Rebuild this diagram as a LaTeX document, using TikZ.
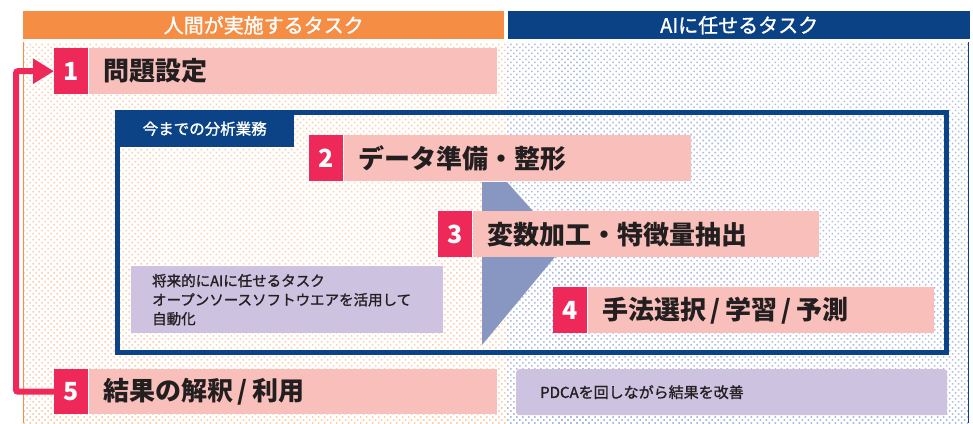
\documentclass[tikz,border=0pt]{standalone}
\usepackage{fontspec}
\setmainfont{Noto Sans CJK JP}
\newfontfamily\jpmed[FakeBold=1.2]{Noto Sans CJK JP}
\usetikzlibrary{patterns.meta,arrows.meta,positioning}
\definecolor{hdrorange}{HTML}{F68D45}
\definecolor{hdrblue}{HTML}{0A4285}
\definecolor{frameblue}{HTML}{0B4386}
\definecolor{dotorange}{HTML}{FBCFAE}
\definecolor{dotblue}{HTML}{AFB9DB}
\definecolor{stepred}{HTML}{EE2858}
\definecolor{steppink}{HTML}{F9C0BB}
\definecolor{softpurple}{HTML}{CDC3E1}
\definecolor{trigray}{HTML}{8797C1}
\definecolor{textdark}{HTML}{231F20}
\newcommand\slashsep{\hspace{4pt}/\hspace{5pt}}
\tikzset{
  header/.style={anchor=north west, inner sep=0, minimum height=28, text=white,
    font=\jpmed\fontsize{20}{20}\selectfont},
  numbox/.style={fill=stepred, text=white, font=\bfseries\fontsize{25}{25}\selectfont,
    minimum width=34, minimum height=46, inner sep=0, anchor=north west},
  stepbar/.style={fill=steppink, text=textdark, font=\bfseries\fontsize{26}{26}\selectfont,
    minimum height=46, inner ysep=0, inner xsep=15, align=left, anchor=west},
  notebox/.style={fill=softpurple, text=textdark, anchor=north west, align=left},
  looparrow/.style={draw=stepred, line width=6, rounded corners=2,
    -{Triangle[length=21pt,width=24pt]}},
  dotsbg/.style={pattern={Dots[distance=4.25pt,radius=1.1pt,angle=45]}},
}
\begin{document}
\begin{tikzpicture}[x=1pt,y=-1pt]
\useasboundingbox (0,0) rectangle (973,423);
% backgrounds
\fill[white] (0,0) rectangle (973,423);
\fill[dotsbg, pattern color=dotorange] (23,42) rectangle (506,423);
\fill[dotsbg, pattern color=dotblue] (507,42) rectangle (968,423);
\draw[hdrorange, line width=1] (23.5,42) -- (23.5,423);
\draw[hdrblue, line width=1] (968,42) -- (968,423);
% headers
\node[header, fill=hdrorange, minimum width=481] (hl) at (23,11) {人間が実施するタスク};
\node[header, fill=hdrblue, minimum width=462] (hr) at (508,11) {AIに任せるタスク};
% frame
\draw[frameblue, line width=5] (117.5,112.5) rectangle (946.5,352.5);
\node[anchor=north west, fill=frameblue, text=white, inner sep=0,
  minimum width=179, minimum height=37, font=\jpmed\fontsize{15.5}{15.5}\selectfont]
  (tab) at (115,110) {今までの分析業務};
% triangle
\fill[trigray] (482,182) -- (507,182) -- (564,246) -- (482,345) -- cycle;
% steps
\node[numbox] (n1) at (54,48) {1};
\node[stepbar, text width=378] (b1) at (n1.east) {問題設定};
\node[numbox] (n2) at (309,135) {2};
\node[stepbar, text width=317] (b2) at (n2.east) {データ準備・整形};
\node[numbox] (n3) at (438,211) {3};
\node[stepbar, text width=316] (b3) at (n3.east) {変数加工・特徴量抽出};
\node[numbox] (n4) at (553,287) {4};
\node[stepbar, text width=316] (b4) at (n4.east) {手法選択\slashsep 学習\slashsep 予測};
\node[numbox, minimum height=45] (n5) at (54,369) {5};
\node[stepbar, minimum height=45, text width=378] (b5) at (n5.east) {結果の解釈\slashsep 利用};
% notes
\node[notebox, minimum width=307, minimum height=67, text width=270, inner xsep=21, inner ysep=0,
  font=\jpmed\fontsize{14.5}{19}\selectfont] (na) at (131,266)
  {将来的にAIに任せるタスク\\オープンソースソフトウエアを活用して\\自動化};
\node[notebox, rounded corners=3, minimum width=431, minimum height=46, text width=383,
  inner xsep=24, inner ysep=0, font=\jpmed\fontsize{15}{15}\selectfont] (nb) at (516,369)
  {PDCAを回しながら結果を改善};
% loop arrow
\draw[looparrow] (n5.west) -- ++(-38,0) |- (n1.west);
\end{tikzpicture}
\end{document}
